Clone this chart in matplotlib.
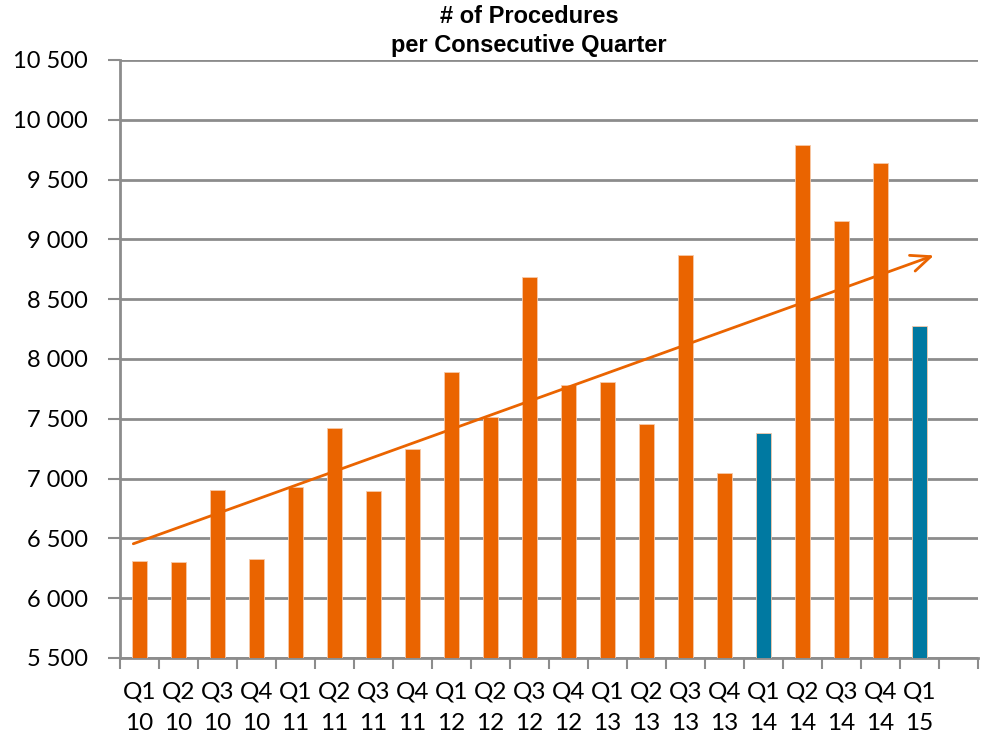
import matplotlib
matplotlib.use("Agg")
import matplotlib.pyplot as plt
import numpy as np

# Quarterly procedure counts
quarters = ["Q1", "Q2", "Q3", "Q4", "Q1", "Q2", "Q3", "Q4", "Q1", "Q2", "Q3",
            "Q4", "Q1", "Q2", "Q3", "Q4", "Q1", "Q2", "Q3", "Q4", "Q1"]
years = ["10", "10", "10", "10", "11", "11", "11", "11", "12", "12", "12",
         "12", "13", "13", "13", "13", "14", "14", "14", "14", "15"]
procedures = [6307, 6301, 6903, 6330, 6930, 7422, 6900, 7249, 7894, 7519, 8682,
              7785, 7804, 7456, 8872, 7045, 7383, 9793, 9151, 9640, 8278]
# Q1 quarters of 2014 and 2015 are highlighted
highlighted = ["Q1 14", "Q1 15"]

# Trend arrow: value at its start and its tip
trend_values = [6455, 8866]

ORANGE = "#EA6400"
TEAL = "#0079A1"
GRID = "#8C8C8C"

label_font = ["Lato", "DejaVu Sans"]
title_font = ["Liberation Sans", "DejaVu Sans"]

fig = plt.figure(figsize=(9.84, 7.37), dpi=100)
ax = fig.add_axes([0.122, 0.1072, 0.8719, 0.8114])

n = len(procedures)
x = np.arange(n)
keys = [f"{q} {y}" for q, y in zip(quarters, years)]
colors = [TEAL if k in highlighted else ORANGE for k in keys]

ax.bar(x, procedures, width=0.4, color=colors, edgecolor="#F7C9A8",
       linewidth=0.6, zorder=3)

ax.set_ylim(5500, 10500)
ax.set_xlim(-0.5, n + 0.5)
ax.set_yticks(np.arange(5500, 10501, 500))
ax.set_yticklabels([f"{v:,}".replace(",", " ") for v in range(5500, 10501, 500)],
                   fontfamily=label_font, fontsize=17, color="black")
ax.yaxis.grid(True, color=GRID, linewidth=2, zorder=0)
ax.set_axisbelow(True)

# Tick marks at the category boundaries; labels in the slot centres
ax.set_xticks(np.arange(-0.5, n + 1, 1.0))
ax.set_xticklabels([])
ax.set_xticks(x, minor=True)
ax.set_xticklabels([f"{q}\n{y}" for q, y in zip(quarters, years)], minor=True,
                   fontfamily=label_font, fontsize=17.5, linespacing=1.6)
ax.tick_params(axis="x", which="minor", length=0, pad=17)
ax.tick_params(axis="x", which="major", length=8, width=1.5, color=GRID)
ax.tick_params(axis="y", length=9, width=1.5, color=GRID, pad=14)

for side in ["top", "right"]:
    ax.spines[side].set_visible(False)
for side in ["left", "bottom"]:
    ax.spines[side].set_color(GRID)
    ax.spines[side].set_linewidth(2)

# Upward trend arrow
x0, x1 = -0.16, n - 0.63
ax.annotate("", xy=(x1, trend_values[1]), xytext=(x0, trend_values[0]),
            arrowprops=dict(arrowstyle="->,head_length=1.4,head_width=0.6",
                            color=ORANGE, lw=2, shrinkA=0, shrinkB=0),
            zorder=4)

fig.text(0.5376, 0.993, "# of Procedures\nper Consecutive Quarter",
         ha="center", va="top", fontsize=17, fontweight="bold",
         fontfamily=title_font, linespacing=1.3)

fig.savefig("out.png", dpi=100)
